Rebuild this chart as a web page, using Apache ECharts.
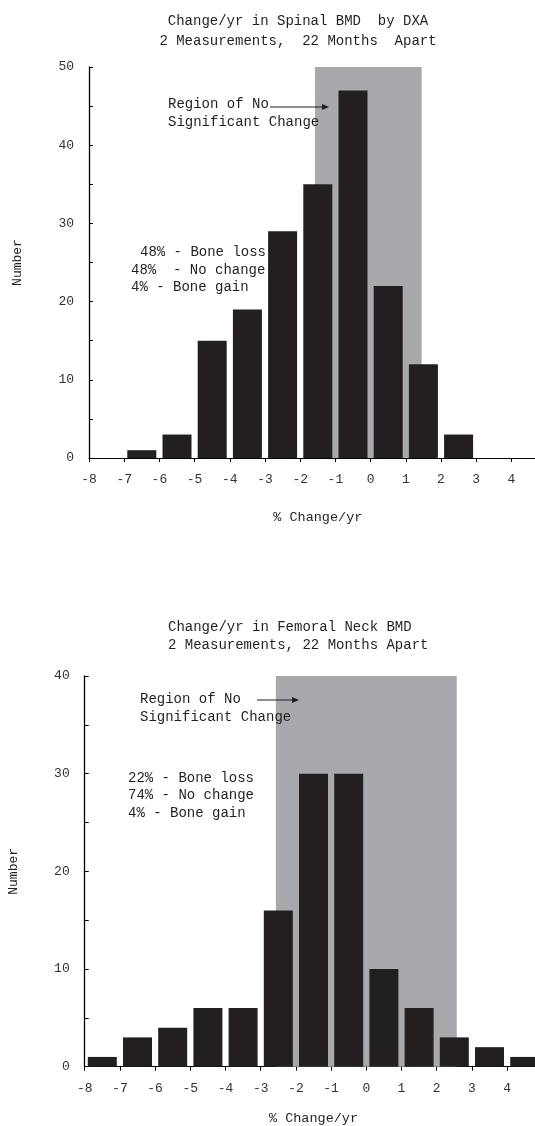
<!DOCTYPE html>
<html>
<head>
<meta charset="utf-8">
<script src="https://cdn.jsdelivr.net/npm/echarts@6/dist/echarts.min.js"></script>
<style>
  html, body { margin: 0; padding: 0; background: #fff; }
  #chart { width: 535px; height: 1126px; }
</style>
</head>
<body>
<div id="chart"></div>
<script>
// bin centres (% change/yr) and counts
const spineBins = [-6.5, -5.5, -4.5, -3.5, -2.5, -1.5, -0.5, 0.5, 1.5, 2.5];
const spineCounts = [1, 3, 15, 19, 29, 35, 47, 22, 12, 3];
const neckBins = [-7.5, -6.5, -5.5, -4.5, -3.5, -2.5, -1.5, -0.5, 0.5, 1.5, 2.5, 3.5, 4.5];
const neckCounts = [1, 3, 4, 6, 6, 16, 30, 30, 10, 6, 3, 2, 1];
// region of no significant change (x range)
const spineRegion = [-1.58, 1.45];
const neckRegion = [-2.57, 2.57];
const spineYMax = 50;
const neckYMax = 40;

const font = "'Liberation Mono', 'Courier New', monospace";
const ink = '#231f20';
const shade = '#a7a9ac';

function pairs(xs, ys) {
  return xs.map((x, i) => [x, ys[i]]);
}

function xAx(gridIndex, gap) {
  return {
    type: 'value', gridIndex: gridIndex, min: -8, max: 5, interval: 1,
    name: '% Change/yr', nameLocation: 'middle', nameGap: gap,
    nameTextStyle: { fontFamily: font, fontSize: 13.5, color: ink },
    axisLine: { onZero: false, lineStyle: { color: '#000', width: 1.2 } },
    axisTick: { length: 4, lineStyle: { color: '#000' } },
    axisLabel: { fontFamily: font, fontSize: 13, color: '#333', margin: 15, showMaxLabel: false },
    splitLine: { show: false }
  };
}

function yAx(gridIndex, max) {
  return {
    type: 'value', gridIndex: gridIndex, min: 0, max: max, interval: 5,
    name: 'Number', nameLocation: 'middle', nameGap: 65,
    nameTextStyle: { fontFamily: font, fontSize: 13, color: ink },
    axisLine: { show: true, onZero: false, lineStyle: { color: '#000', width: 1.3 } },
    axisTick: { show: true, inside: true, length: 4, lineStyle: { color: '#000' } },
    axisLabel: {
      fontFamily: font, fontSize: 13, color: '#333', margin: 15,
      formatter: v => (v % 10 === 0 ? String(v) : '')
    },
    splitLine: { show: false }
  };
}

function txt(x, y, s, align) {
  return {
    type: 'text', x: x, y: y, z: 100,
    style: { text: s, fill: ink, font: '14px ' + font, textAlign: align || 'left', textVerticalAlign: 'middle' }
  };
}

function arrow(x1, x2, y) {
  return [
    { type: 'line', z: 100, shape: { x1: x1, y1: y, x2: x2 - 6, y2: y }, style: { stroke: ink, lineWidth: 1 } },
    { type: 'polygon', z: 100, shape: { points: [[x2, y], [x2 - 7, y - 3], [x2 - 7, y + 3]] }, style: { fill: ink } }
  ];
}

const chart = echarts.init(document.getElementById('chart'));
chart.setOption({
  animation: false,
  grid: [
    { left: 89, top: 67, width: 457.6, height: 391, outerBoundsMode: 'none', containLabel: false },
    { left: 84.7, top: 676, width: 457.6, height: 390.7, outerBoundsMode: 'none', containLabel: false }
  ],
  xAxis: [xAx(0, 52), xAx(1, 45)],
  yAxis: [yAx(0, spineYMax), yAx(1, neckYMax)],
  series: [
    {
      type: 'bar', xAxisIndex: 0, yAxisIndex: 0, barWidth: 29,
      itemStyle: { color: ink },
      data: pairs(spineBins, spineCounts),
      markArea: {
        silent: true, z: 1,
        label: { show: false },
        itemStyle: { color: shade, opacity: 1 },
        data: [[{ xAxis: spineRegion[0], yAxis: 0 }, { xAxis: spineRegion[1], yAxis: spineYMax }]]
      }
    },
    {
      type: 'bar', xAxisIndex: 1, yAxisIndex: 1, barWidth: 29,
      itemStyle: { color: ink },
      data: pairs(neckBins, neckCounts),
      markArea: {
        silent: true, z: 1,
        label: { show: false },
        itemStyle: { color: shade, opacity: 1 },
        data: [[{ xAxis: neckRegion[0], yAxis: 0 }, { xAxis: neckRegion[1], yAxis: neckYMax }]]
      }
    }
  ],
  graphic: [
    txt(298, 21, 'Change/yr in Spinal BMD  by DXA', 'center'),
    txt(298, 41, '2 Measurements,  22 Months  Apart', 'center'),
    txt(168, 104, 'Region of No'),
    txt(168, 122, 'Significant Change'),
    ...arrow(270, 329, 107),
    txt(140, 252, '48% - Bone loss'),
    txt(131, 270, '48%  - No change'),
    txt(131, 287, '4% - Bone gain'),

    txt(168, 627, 'Change/yr in Femoral Neck BMD'),
    txt(168, 645, '2 Measurements, 22 Months Apart'),
    txt(140, 699, 'Region of No'),
    txt(140, 717, 'Significant Change'),
    ...arrow(257, 299, 700),
    txt(128, 778, '22% - Bone loss'),
    txt(128, 795, '74% - No change'),
    txt(128, 813, '4% - Bone gain')
  ]
});
</script>
</body>
</html>
